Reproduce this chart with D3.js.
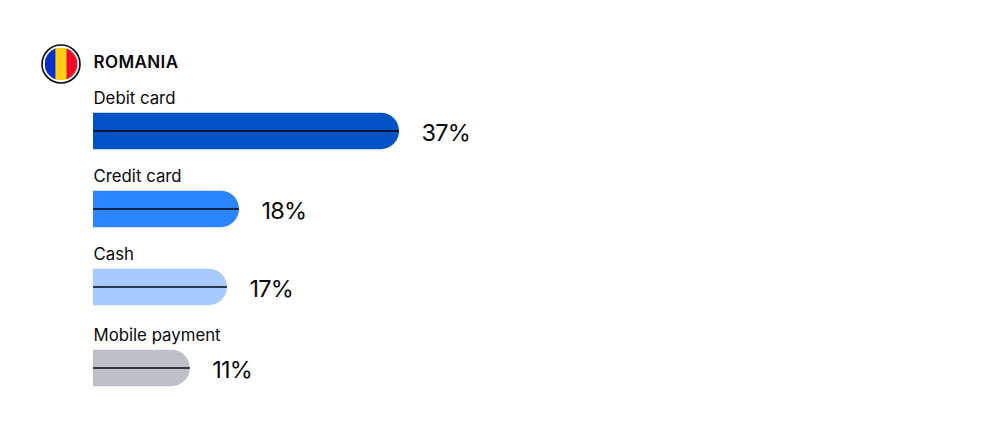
<!DOCTYPE html>
<html><head><meta charset="utf-8">
<script src="https://cdn.jsdelivr.net/npm/d3@7/dist/d3.min.js"></script>
<style>html,body{margin:0;padding:0;background:#fff}svg{display:block}text{font-family:Inter,"Noto Sans",sans-serif;fill:#0a0a0a}</style>
</head><body><div id="c"></div>
<script>
const title = "ROMANIA";
const categories = ["Debit card","Credit card","Cash","Mobile payment"];
const barValues = [37, 17.65, 16.2, 11.7];
const valueLabels = ["37%","18%","17%","11%"];
const barColors = ["#0353c6","#2a85ff","#a8cbff","#bdc0c6"];
const flagColors = ["#0a2fc4","#ffcf14","#f00a2a"];

const W=1000,H=431,barH=36.5;
const svg=d3.select("#c").append("svg").attr("width",W).attr("height",H);
const x=d3.scaleLinear().domain([0,37]).range([93,399]);
const y=d3.scaleOrdinal().domain(categories).range([112.7,190.7,268.7,349.7]);

// flag
const cx=61,cy=64,r=16.4;
const defs=svg.append("defs");
defs.append("clipPath").attr("id","fc").append("circle").attr("cx",cx).attr("cy",cy).attr("r",r);
const fx=d3.scaleBand().domain(flagColors).range([cx-r,cx+r]);
svg.append("g").attr("clip-path","url(#fc)").selectAll("rect").data(flagColors).join("rect")
  .attr("x",d=>fx(d)).attr("y",cy-r).attr("width",fx.bandwidth()+.3).attr("height",2*r).attr("fill",d=>d);
svg.append("circle").attr("cx",cx).attr("cy",cy).attr("r",19).attr("fill","none").attr("stroke","#0a0a0a").attr("stroke-width",1.6);

svg.append("text").attr("x",93.5).attr("y",68).attr("font-size",17).attr("font-weight",600).attr("letter-spacing",.4).text(title);

const rows=categories.map((c,i)=>({c,v:barValues[i],l:valueLabels[i],col:barColors[i]}));
const g=svg.selectAll("g.row").data(rows).join("g").attr("class","row");
g.append("path").attr("fill",d=>d.col).attr("d",d=>{
  const p=d3.path(),x0=x(0),x1=x(d.v),t=y(d.c),rr=barH/2;
  p.moveTo(x0,t);p.lineTo(x1-rr,t);p.arc(x1-rr,t+rr,rr,-Math.PI/2,Math.PI/2);p.lineTo(x0,t+barH);p.closePath();return p.toString();
});
g.append("line").attr("x1",x(0)).attr("x2",d=>x(d.v)).attr("y1",d=>y(d.c)+18.3).attr("y2",d=>y(d.c)+18.3)
  .attr("stroke","#05050f").attr("stroke-width",1.7);
g.append("text").attr("x",93.5).attr("y",d=>y(d.c)-8.7).attr("font-size",16.8).text(d=>d.c);
g.append("text").attr("x",d=>x(d.v)+22.5).attr("y",d=>y(d.c)+27.8).attr("font-size",23.5).attr("letter-spacing",-.8).text(d=>d.l);
</script></body></html>
